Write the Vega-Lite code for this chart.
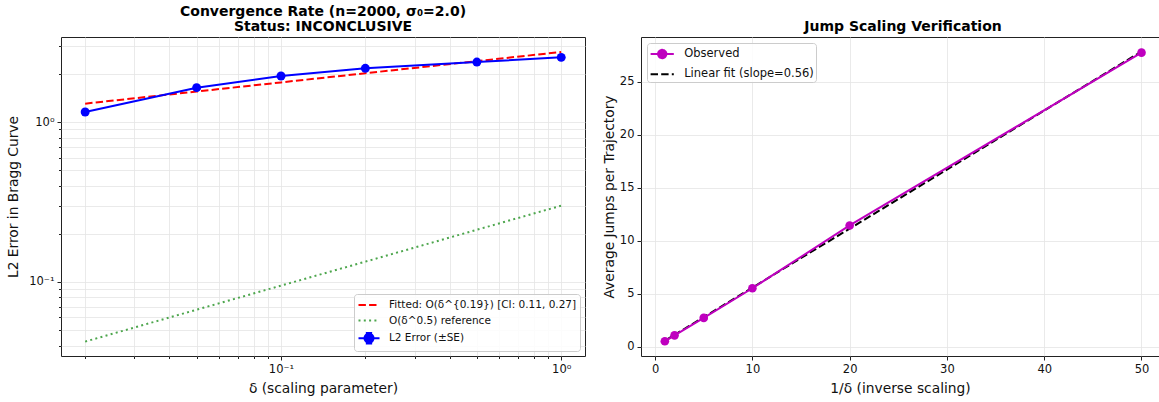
{
  "$schema": "https://vega.github.io/schema/vega-lite/v6.json",
  "padding": {"left": 6, "top": 4, "right": 0, "bottom": 0},
  "bounds": "flush",
  "spacing": 56,
  "datasets": {
    "left": [
      {"d": 0.02, "v": 1.155, "s": "L2"}, {"d": 0.05, "v": 1.64, "s": "L2"}, {"d": 0.1, "v": 1.94, "s": "L2"},
      {"d": 0.2, "v": 2.166, "s": "L2"}, {"d": 0.5, "v": 2.371, "s": "L2"}, {"d": 1.0, "v": 2.536, "s": "L2"},
      {"d": 0.02, "v": 1.303, "s": "Fit"}, {"d": 0.05, "v": 1.551, "s": "Fit"}, {"d": 0.1, "v": 1.769, "s": "Fit"},
      {"d": 0.2, "v": 2.018, "s": "Fit"}, {"d": 0.5, "v": 2.402, "s": "Fit"}, {"d": 1.0, "v": 2.74, "s": "Fit"},
      {"d": 0.02, "v": 0.0424, "s": "Ref"}, {"d": 0.05, "v": 0.0671, "s": "Ref"}, {"d": 0.1, "v": 0.0949, "s": "Ref"},
      {"d": 0.2, "v": 0.134, "s": "Ref"}, {"d": 0.5, "v": 0.212, "s": "Ref"}, {"d": 1.0, "v": 0.3, "s": "Ref"}
    ],
    "right": [
      {"x": 1, "y": 0.51, "s": "Obs"}, {"x": 2, "y": 1.07, "s": "Obs"}, {"x": 5, "y": 2.72, "s": "Obs"},
      {"x": 10, "y": 5.52, "s": "Obs"}, {"x": 20, "y": 11.45, "s": "Obs"}, {"x": 50, "y": 27.77, "s": "Obs"},
      {"x": 1, "y": 0.56, "s": "LinFit"}, {"x": 50, "y": 27.88, "s": "LinFit"}
    ]
  },
  "config": {
    "font": "DejaVu Sans",
    "view": {"stroke": "#222222", "strokeWidth": 1},
    "axis": {
      "labelFont": "DejaVu Sans", "labelFontSize": 11.5, "labelColor": "#111111",
      "titleFont": "DejaVu Sans", "titleFontSize": 13.8, "titleFontWeight": "normal", "titleColor": "#111111",
      "gridColor": "#e4e4e4", "gridWidth": 0.8, "tickColor": "#222222", "tickSize": 4,
      "domain": false, "labelPadding": 3, "titlePadding": 7, "labelOverlap": false
    },
    "title": {"font": "DejaVu Sans", "fontSize": 14, "fontWeight": "bold", "color": "#000000", "offset": 3},
    "legend": {
      "title": null, "labelFont": "DejaVu Sans", "labelColor": "#111111", "labelLimit": 0,
      "fillColor": "rgba(255,255,255,0.85)", "strokeColor": "#cccccc", "cornerRadius": 3,
      "symbolStrokeWidth": 2, "symbolOpacity": 1
    }
  },
  "resolve": {"scale": {"fill": "independent", "stroke": "independent", "shape": "independent", "strokeDash": "independent"}},
  "hconcat": [
    {
      "width": 524, "height": 319,
      "title": {"text": ["Convergence Rate (n=2000, σ₀=2.0)", "Status: INCONCLUSIVE"], "lineHeight": 14.6},
      "data": {"name": "left"},
      "encoding": {
        "x": {"field": "d", "type": "quantitative",
          "scale": {"type": "log", "domain": [0.0164, 1.216], "nice": false},
          "axis": {"title": "δ (scaling parameter)",
            "values": [0.02,0.03,0.04,0.05,0.06,0.07,0.08,0.09,0.1,0.2,0.3,0.4,0.5,0.6,0.7,0.8,0.9,1],
            "labelExpr": "datum.value==1 ? '10⁰' : (datum.value==0.1 ? '10⁻¹' : '')",
            "tickSize": {"condition": {"test": "datum.value==1 || datum.value==0.1", "value": 4}, "value": 2.5}}},
        "y": {"field": "v", "type": "quantitative",
          "scale": {"type": "log", "domain": [0.03446, 3.40], "nice": false},
          "axis": {"title": "L2 Error in Bragg Curve", "titlePadding": 8,
            "values": [0.04,0.05,0.06,0.07,0.08,0.09,0.1,0.2,0.3,0.4,0.5,0.6,0.7,0.8,0.9,1,2,3],
            "labelExpr": "datum.value==1 ? '10⁰' : (datum.value==0.1 ? '10⁻¹' : '')",
            "tickSize": {"condition": {"test": "datum.value==1 || datum.value==0.1", "value": 4}, "value": 2.5}}}
      },
      "layer": [
        {"transform": [{"filter": "datum.s==='Fit'"}],
         "mark": {"type": "line", "color": "#ff0000", "strokeWidth": 2, "strokeDash": [7.4, 3.2]}},
        {"transform": [{"filter": "datum.s==='Ref'"}],
         "mark": {"type": "line", "color": "#4da64d", "strokeWidth": 2, "strokeDash": [2, 3.3]}},
        {"transform": [{"filter": "datum.s==='L2'"}],
         "mark": {"type": "line", "color": "#0000ff", "strokeWidth": 2}},
        {"transform": [{"filter": "datum.s==='L2'"}],
         "mark": {"type": "point", "filled": true, "color": "#0000ff", "size": 80, "opacity": 1}},
        {"transform": [{"filter": "false"}],
         "mark": {"type": "point", "filled": true, "opacity": 1},
         "encoding": {
           "fill": {"field": "lab", "type": "nominal",
             "scale": {"domain": ["Fitted: O(δ^{0.19}) [CI: 0.11, 0.27]", "O(δ^0.5) reference", "L2 Error (±SE)"], "range": ["#ff0000", "#4da64d", "#0000ff"]},
             "legend": {"orient": "bottom-right", "offset": 5, "padding": 3, "symbolSize": 196, "rowPadding": 1.6, "labelOffset": 12, "symbolOffset": 4, "labelFontSize": 10.5}},
           "stroke": {"field": "lab", "type": "nominal",
             "scale": {"domain": ["Fitted: O(δ^{0.19}) [CI: 0.11, 0.27]", "O(δ^0.5) reference", "L2 Error (±SE)"], "range": ["#ff0000", "#4da64d", "#0000ff"]},
             "legend": {"orient": "bottom-right", "offset": 5, "padding": 3, "symbolSize": 196, "rowPadding": 1.6, "labelOffset": 12, "symbolOffset": 4, "labelFontSize": 10.5}},
           "shape": {"field": "lab", "type": "nominal",
             "scale": {"domain": ["Fitted: O(δ^{0.19}) [CI: 0.11, 0.27]", "O(δ^0.5) reference", "L2 Error (±SE)"],
               "range": ["M-1.5,0L1.5,0", "M-1.5,0L1.5,0", "M-1.5,0L1.5,0M0,-0.75L0,0.75M-0.45,-0.75L0.45,-0.75M-0.45,0.75L0.45,0.75M-0.64,0A0.64,0.64,0,1,1,0.64,0A0.64,0.64,0,1,1,-0.64,0Z"]},
             "legend": {"orient": "bottom-right", "offset": 5, "padding": 3, "symbolSize": 196, "rowPadding": 1.6, "labelOffset": 12, "symbolOffset": 4, "labelFontSize": 10.5}},
           "strokeDash": {"field": "lab", "type": "nominal",
             "scale": {"domain": ["Fitted: O(δ^{0.19}) [CI: 0.11, 0.27]", "O(δ^0.5) reference", "L2 Error (±SE)"], "range": [[7.4, 3.2], [2, 3.3], [1, 0]]},
             "legend": {"orient": "bottom-right", "offset": 5, "padding": 3, "symbolSize": 196, "rowPadding": 1.6, "labelOffset": 12, "symbolOffset": 4, "labelFontSize": 10.5}}
         }}
      ]
    },
    {
      "width": 518, "height": 319,
      "title": {"text": "Jump Scaling Verification", "dx": 3},
      "data": {"name": "right"},
      "encoding": {
        "x": {"field": "x", "type": "quantitative",
          "scale": {"domain": [-1.45, 51.8], "nice": false, "zero": false},
          "axis": {"title": "1/δ (inverse scaling)", "values": [0, 10, 20, 30, 40, 50]}},
        "y": {"field": "y", "type": "quantitative",
          "scale": {"domain": [-0.88, 29.25], "nice": false, "zero": false},
          "axis": {"title": "Average Jumps per Trajectory", "titlePadding": 3, "values": [0, 5, 10, 15, 20, 25]}}
      },
      "layer": [
        {"transform": [{"filter": "datum.s==='LinFit'"}],
         "mark": {"type": "line", "color": "#000000", "strokeWidth": 2, "strokeDash": [7.4, 3.2]}},
        {"transform": [{"filter": "datum.s==='Obs'"}],
         "mark": {"type": "line", "color": "#bf00bf", "strokeWidth": 2}},
        {"transform": [{"filter": "datum.s==='Obs'"}],
         "mark": {"type": "point", "filled": true, "color": "#bf00bf", "size": 75, "opacity": 1}},
        {"transform": [{"filter": "false"}],
         "mark": {"type": "point", "filled": true, "opacity": 1},
         "encoding": {
           "fill": {"field": "lab2", "type": "nominal",
             "scale": {"domain": ["Observed", "Linear fit (slope=0.56)"], "range": ["#bf00bf", "#000000"]},
             "legend": {"orient": "top-left", "offset": 6, "padding": 2, "symbolSize": 256, "rowPadding": 2.3, "labelOffset": 13, "symbolOffset": 4.2, "labelFontSize": 11.5}},
           "stroke": {"field": "lab2", "type": "nominal",
             "scale": {"domain": ["Observed", "Linear fit (slope=0.56)"], "range": ["#bf00bf", "#000000"]},
             "legend": {"orient": "top-left", "offset": 6, "padding": 2, "symbolSize": 256, "rowPadding": 2.3, "labelOffset": 13, "symbolOffset": 4.2, "labelFontSize": 11.5}},
           "shape": {"field": "lab2", "type": "nominal",
             "scale": {"domain": ["Observed", "Linear fit (slope=0.56)"],
               "range": ["M-1.45,0L1.45,0M-0.52,0A0.52,0.52,0,1,1,0.52,0A0.52,0.52,0,1,1,-0.52,0Z", "M-1.45,0L1.45,0"]},
             "legend": {"orient": "top-left", "offset": 6, "padding": 2, "symbolSize": 256, "rowPadding": 2.3, "labelOffset": 13, "symbolOffset": 4.2, "labelFontSize": 11.5}},
           "strokeDash": {"field": "lab2", "type": "nominal",
             "scale": {"domain": ["Observed", "Linear fit (slope=0.56)"], "range": [[1, 0], [7.4, 3.2]]},
             "legend": {"orient": "top-left", "offset": 6, "padding": 2, "symbolSize": 256, "rowPadding": 2.3, "labelOffset": 13, "symbolOffset": 4.2, "labelFontSize": 11.5}}
         }}
      ]
    }
  ]
}
